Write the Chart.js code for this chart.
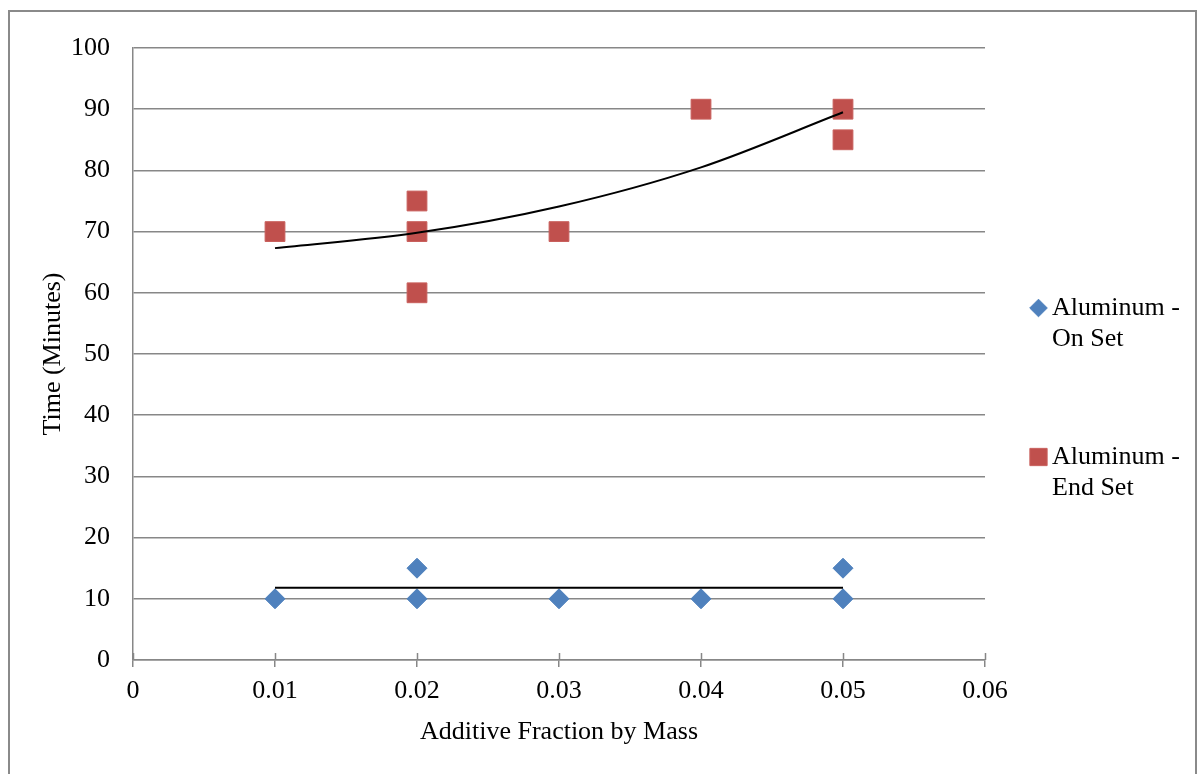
<!DOCTYPE html>
<html>
<head>
<meta charset="utf-8">
<script src="https://cdn.jsdelivr.net/npm/chart.js@4/dist/chart.umd.min.js"></script>
<style>
  html, body { margin: 0; padding: 0; background: #fff; overflow: hidden; }
  #wrap { position: relative; width: 1197px; height: 774px; overflow: hidden; }
  #frame { position: absolute; left: 8px; top: 10px; width: 1189px; height: 800px;
           border: 2px solid #8a8a8a; box-sizing: border-box; }
  canvas { position: absolute; left: 0; top: 0; }
</style>
</head>
<body>
<div id="wrap">
  <div id="frame"></div>
  <canvas id="chart" width="1197" height="774"></canvas>
</div>
<script>
// Setting times of the aluminum mixes against additive mass fraction
const onSetX = [0.01, 0.02, 0.02, 0.03, 0.04, 0.05, 0.05];
const onSetY = [10, 15, 10, 10, 10, 15, 10];

const endSetX = [0.01, 0.02, 0.02, 0.02, 0.03, 0.04, 0.05, 0.05];
const endSetY = [70, 75, 70, 60, 70, 90, 90, 85];

// Trendlines (linear for on set, polynomial for end set)
const onSetTrendX = [0.01, 0.05];
const onSetTrendY = [11.8, 11.8];
const endSetTrendX = [0.01, 0.02, 0.03, 0.04, 0.05];
const endSetTrendY = [67.3, 69.8, 74.1, 80.5, 89.5];

const xTickLabels = ['0', '0.01', '0.02', '0.03', '0.04', '0.05', '0.06'];
const yTickLabels = ['0', '10', '20', '30', '40', '50', '60', '70', '80', '90', '100'];

const seriesNames = ['Aluminum - On Set', 'Aluminum - End Set'];
const legendLines = [['Aluminum -', 'On Set'], ['Aluminum -', 'End Set']];

const toPoints = (xs, ys) => xs.map((x, i) => ({ x: x, y: ys[i] }));

const FONT = "'Liberation Serif', 'Times New Roman', serif";
const GRID = '#878787';

// Tick marks on the x axis cross the axis line; draw the upper half here
const crossTicks = {
  id: 'crossTicks',
  afterDraw(chart) {
    const sx = chart.scales.x;
    const ctx = chart.ctx;
    ctx.save();
    ctx.strokeStyle = GRID;
    ctx.lineWidth = 1.5;
    sx.ticks.forEach(t => {
      const px = Math.round(sx.getPixelForValue(t.value)) + 0.5;
      ctx.beginPath();
      ctx.moveTo(px, chart.chartArea.bottom - 7);
      ctx.lineTo(px, chart.chartArea.bottom);
      ctx.stroke();
    });
    ctx.restore();
  }
};

// Two-line legend entries to the right of the plot
const sideLegend = {
  id: 'sideLegend',
  afterDraw(chart) {
    const ctx = chart.ctx;
    const entries = [
      { ds: chart.data.datasets[0], lines: legendLines[0], y: 308, radius: 8.8 },
      { ds: chart.data.datasets[1], lines: legendLines[1], y: 457, radius: 12.2 }
    ];
    ctx.save();
    entries.forEach(e => {
      ctx.fillStyle = e.ds.backgroundColor;
      ctx.strokeStyle = e.ds.borderColor;
      ctx.lineWidth = 1;
      Chart.helpers.drawPoint(ctx, { pointStyle: e.ds.pointStyle, radius: e.radius, rotation: 0, borderWidth: 1 }, 1038.5, e.y);
      ctx.fillStyle = '#000';
      ctx.font = '26px ' + FONT;
      ctx.textAlign = 'left';
      ctx.textBaseline = 'middle';
      e.lines.forEach((ln, i) => ctx.fillText(ln, 1052, e.y + i * 31.5));
    });
    ctx.restore();
  }
};

new Chart(document.getElementById('chart'), {
  type: 'scatter',
  data: {
    datasets: [
      {
        label: seriesNames[0],
        data: toPoints(onSetX, onSetY),
        pointStyle: 'rectRot',
        pointRadius: 10,
        pointHoverRadius: 10,
        backgroundColor: '#4F81BD',
        borderColor: '#4F81BD',
        borderWidth: 1,
        order: 2
      },
      {
        label: seriesNames[1],
        data: toPoints(endSetX, endSetY),
        pointStyle: 'rect',
        pointRadius: 14,
        pointHoverRadius: 14,
        backgroundColor: '#C0504D',
        borderColor: '#C9605D',
        borderWidth: 1,
        order: 2
      },
      {
        label: 'On Set trend',
        type: 'line',
        data: toPoints(onSetTrendX, onSetTrendY),
        borderColor: '#000',
        borderWidth: 2,
        pointRadius: 0,
        fill: false,
        order: 1
      },
      {
        label: 'End Set trend',
        type: 'line',
        data: toPoints(endSetTrendX, endSetTrendY),
        borderColor: '#000',
        borderWidth: 2,
        pointRadius: 0,
        cubicInterpolationMode: 'monotone',
        fill: false,
        order: 1
      }
    ]
  },
  options: {
    responsive: false,
    animation: false,
    devicePixelRatio: 1,
    layout: { padding: { left: 0, right: 212, top: 48, bottom: 0 } },
    plugins: {
      legend: { display: false },
      tooltip: { enabled: false },
      title: { display: false }
    },
    scales: {
      x: {
        type: 'linear',
        min: 0,
        max: 0.06,
        afterBuildTicks(scale) {
          scale.ticks = xTickLabels.map(v => ({ value: parseFloat(v) }));
        },
        afterFit(scale) { scale.height = 114; },
        ticks: {
          color: '#000',
          font: { family: FONT, size: 26 },
          padding: 9,
          maxRotation: 0,
          autoSkip: false,
          callback: (v, i) => xTickLabels[i]
        },
        grid: { drawOnChartArea: false, drawTicks: true, tickLength: 7, color: GRID, lineWidth: 1.5 },
        border: { display: true, color: GRID, width: 1.5 },
        title: {
          display: true,
          text: 'Additive Fraction by Mass',
          color: '#000',
          font: { family: FONT, size: 26 },
          padding: { top: 0, bottom: 26 }
        }
      },
      y: {
        type: 'linear',
        min: 0,
        max: 100,
        afterBuildTicks(scale) {
          scale.ticks = yTickLabels.map(v => ({ value: parseFloat(v) }));
        },
        afterFit(scale) { scale.width = 133; },
        ticks: {
          color: '#000',
          font: { family: FONT, size: 26 },
          padding: 23,
          autoSkip: false,
          callback: (v, i) => yTickLabels[i]
        },
        grid: { drawTicks: false, color: GRID, lineWidth: 1.5 },
        border: { display: true, color: GRID, width: 1.5 },
        title: {
          display: true,
          text: 'Time (Minutes)',
          color: '#000',
          font: { family: FONT, size: 26 },
          padding: { top: 38, bottom: 0 }
        }
      }
    }
  },
  plugins: [crossTicks, sideLegend]
});
</script>
</body>
</html>
